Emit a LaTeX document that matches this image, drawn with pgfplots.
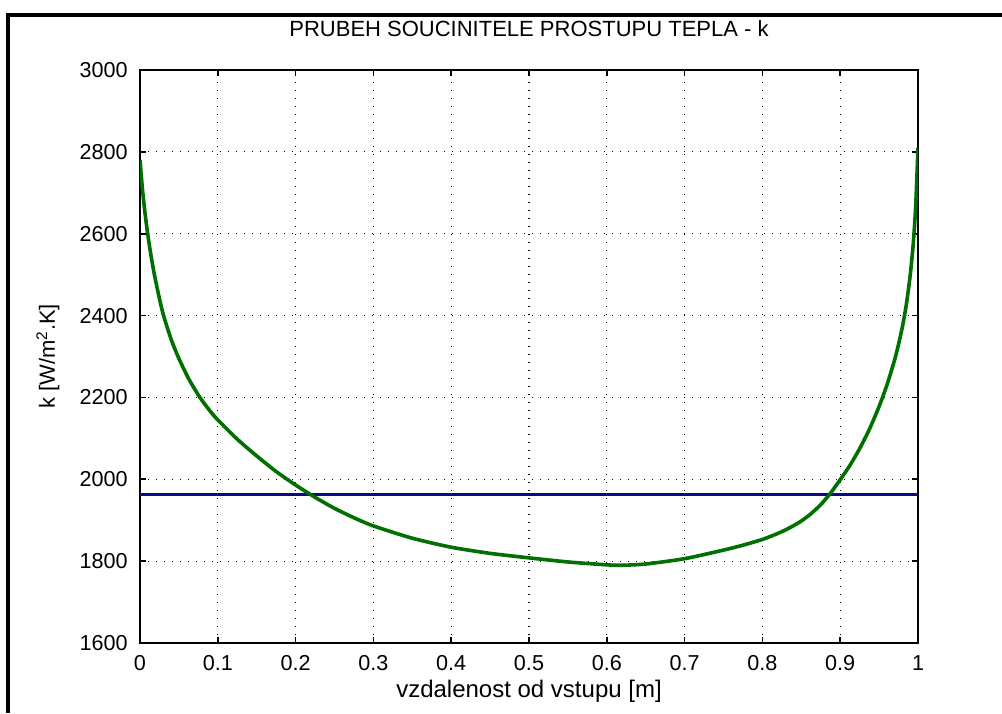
\documentclass[border=0pt]{standalone}
\usepackage{fontspec}
\setmainfont{Liberation Sans}
\usepackage{pgfplots}
\pgfplotsset{compat=1.18}
\definecolor{mgreen}{RGB}{0,112,0}
\definecolor{mblue}{RGB}{10,10,130}
\begin{document}
\begin{tikzpicture}
\useasboundingbox (0,0) rectangle (501pt,356.5pt);
\fill[white] (0,0) rectangle (501pt,356.5pt);
\draw[line width=2pt] (4pt,0) -- (4pt,349pt) -- (501pt,349pt);
\begin{axis}[
  scale only axis, width=389pt, height=286.5pt,
  at={(70pt,35pt)}, anchor=south west,
  xmin=0, xmax=1, ymin=1600, ymax=3000,
  xtick={0,0.1,0.2,0.3,0.4,0.5,0.6,0.7,0.8,0.9,1},
  xticklabels={0,0.1,0.2,0.3,0.4,0.5,0.6,0.7,0.8,0.9,1},
  ytick={1600,1800,2000,2200,2400,2600,2800,3000},
  yticklabels={1600,1800,2000,2200,2400,2600,2800,3000},
  grid=major,
  major grid style={black, line width=0.6pt, dash pattern=on 0.6pt off 3.4pt},
  tick align=inside, major tick length=3pt,
  tick style={black, line width=0.8pt},
  axis line style={line width=0.8pt},
  xticklabel style={anchor=base, inner sep=0pt, yshift=-13.5pt, font=\fontsize{10.8}{12}\selectfont},
  yticklabel style={anchor=east, inner sep=0pt, xshift=-6pt, font=\fontsize{10.8}{12}\selectfont},
  title={PRUBEH SOUCINITELE PROSTUPU TEPLA - k},
  title style={at={(axis description cs:0.5,1)}, anchor=base, yshift=11pt, inner sep=0pt, font=\fontsize{11}{13}\selectfont},
  xlabel={vzdalenost od vstupu [m]},
  xlabel style={at={(axis description cs:0.5,0)}, anchor=base, yshift=-27pt, inner sep=0pt, font=\fontsize{12}{14}\selectfont},
  ylabel={k [W/m\textsuperscript{2}.K]},
  ylabel style={at={(axis description cs:-0.1093,0.5)}, anchor=base, inner sep=0pt, font=\fontsize{11}{13}\selectfont},
]
\addplot[mblue, line width=1.4pt] coordinates {(0,1962) (1,1962)};
\addplot[mgreen, line width=1.8pt, line join=round, smooth, tension=0.4] coordinates {
(0,2780) (0.003,2712) (0.006,2658) (0.009,2612) (0.013,2560) (0.018,2505)
(0.024,2450) (0.030,2402) (0.040,2342) (0.050,2295) (0.063,2244) (0.077,2200)
(0.090,2167) (0.100,2145) (0.125,2098) (0.150,2057) (0.175,2019) (0.200,1986)
(0.225,1956) (0.250,1929) (0.275,1906) (0.300,1886) (0.350,1856) (0.400,1834)
(0.450,1819) (0.500,1808) (0.550,1798) (0.600,1791) (0.620,1790) (0.650,1793)
(0.700,1806) (0.750,1827) (0.775,1839) (0.800,1853) (0.8125,1862) (0.825,1872)
(0.8375,1884) (0.850,1898) (0.8625,1916) (0.875,1938) (0.8875,1966) (0.900,1999)
(0.9125,2034) (0.925,2075) (0.9375,2122) (0.950,2178) (0.960,2230) (0.970,2292)
(0.975,2330) (0.980,2373) (0.985,2427) (0.990,2499) (0.994,2578) (0.997,2666)
(1.000,2810)
};
\end{axis}
\end{tikzpicture}
\end{document}
